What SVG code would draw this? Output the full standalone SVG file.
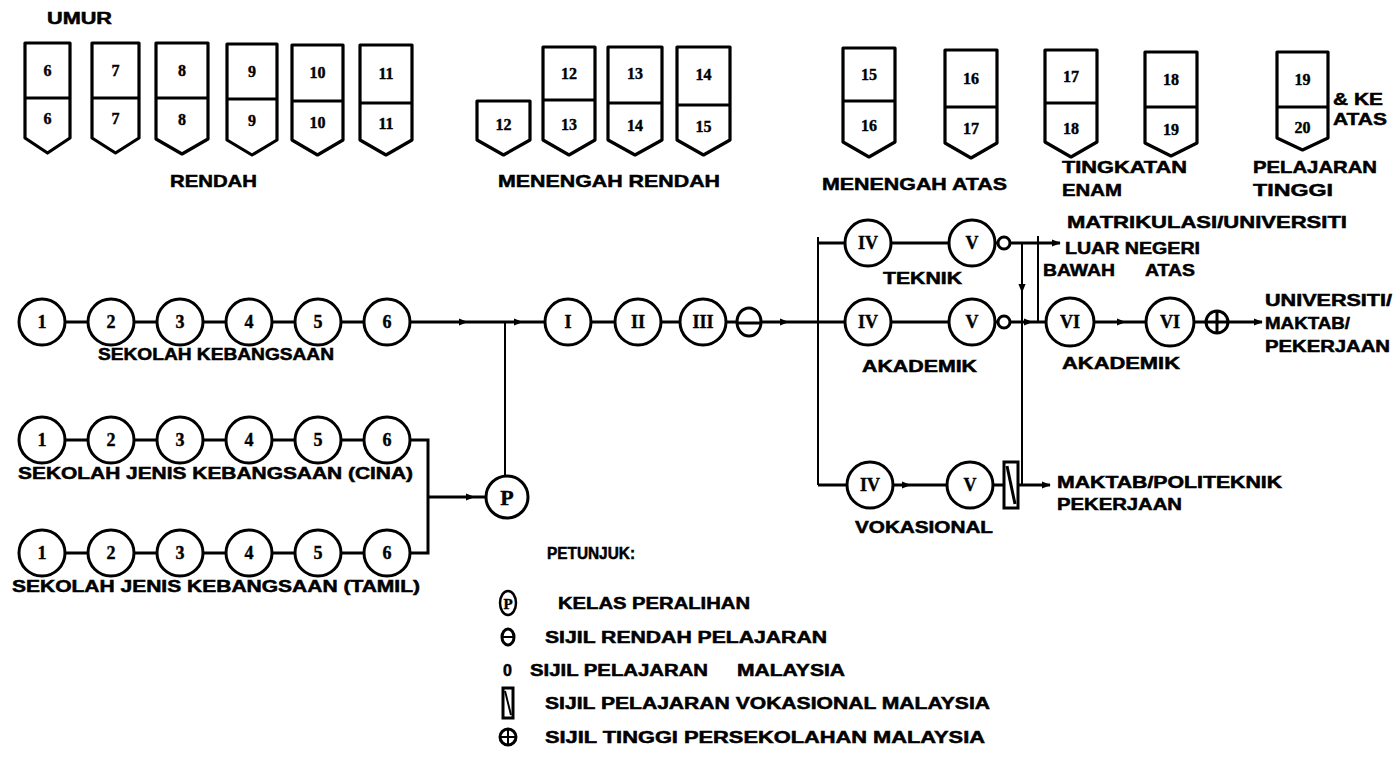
<svg xmlns="http://www.w3.org/2000/svg" width="1399" height="778" viewBox="0 0 1399 778">
<style>
.t{font-family:"Liberation Sans",Arial,sans-serif;font-weight:bold;font-size:16px;fill:#000;stroke:#000;stroke-width:0.5}
.lg{font-size:17px}
.n{font-family:"Liberation Serif","Times New Roman",serif;font-weight:bold;font-size:16px;text-anchor:middle;fill:#000;stroke:#000;stroke-width:0.4}
.rn{font-size:18px}
.box{fill:#fff;stroke:#000;stroke-width:3.2;stroke-linejoin:round}
.c{fill:#fff;stroke:#000;stroke-width:3}
.ln{fill:none;stroke:#000;stroke-width:3}
.th{fill:none;stroke:#000;stroke-width:2}
</style>
<defs>
<marker id="arr" viewBox="0 0 10 10" refX="9" refY="5" markerWidth="9" markerHeight="9" markerUnits="userSpaceOnUse" orient="auto"><path d="M0,1 L10,5 L0,9 z" fill="#000"/></marker>
</defs>
<rect width="1399" height="778" fill="#fff"/>

<g id="age-header">
<text class="t" x="47" y="24" textLength="65" lengthAdjust="spacingAndGlyphs">UMUR</text>
</g>

<g id="age-boxes">
<path class="box" d="M25 43H70V138L47.5 153L25 138Z"/><line class="ln" x1="25" y1="98" x2="70" y2="98"/><text class="n" x="47.5" y="76">6</text><text class="n" x="47.5" y="124">6</text>
<path class="box" d="M92 43H139V138L115.5 153L92 138Z"/><line class="ln" x1="92" y1="98" x2="139" y2="98"/><text class="n" x="115.5" y="76">7</text><text class="n" x="115.5" y="124">7</text>
<path class="box" d="M156 43H208V139L182 154L156 139Z"/><line class="ln" x1="156" y1="98" x2="208" y2="98"/><text class="n" x="182" y="76">8</text><text class="n" x="182" y="125">8</text>
<path class="box" d="M227 44H277V140L252 155L227 140Z"/><line class="ln" x1="227" y1="99" x2="277" y2="99"/><text class="n" x="252" y="77">9</text><text class="n" x="252" y="126">9</text>
<path class="box" d="M292 45H343V140L317.5 155L292 140Z"/><line class="ln" x1="292" y1="101" x2="343" y2="101"/><text class="n" x="317.5" y="78">10</text><text class="n" x="317.5" y="128">10</text>
<path class="box" d="M360 45H412V140L386 155L360 140Z"/><line class="ln" x1="360" y1="103" x2="412" y2="103"/><text class="n" x="386" y="79">11</text><text class="n" x="386" y="129">11</text>

<path class="box" d="M477 101H530V140L503.5 155L477 140Z"/><text class="n" x="503.5" y="130">12</text>
<path class="box" d="M543 47H595V140L569 155L543 140Z"/><line class="ln" x1="543" y1="100" x2="595" y2="100"/><text class="n" x="569" y="79">12</text><text class="n" x="569" y="130">13</text>
<path class="box" d="M608 47H662V140L635 155L608 140Z"/><line class="ln" x1="608" y1="103" x2="662" y2="103"/><text class="n" x="635" y="79">13</text><text class="n" x="635" y="131">14</text>
<path class="box" d="M677 47H730V140L703.5 155L677 140Z"/><line class="ln" x1="677" y1="105" x2="730" y2="105"/><text class="n" x="703.5" y="80">14</text><text class="n" x="703.5" y="132">15</text>
<path class="box" d="M843 48H895V142L869 157L843 142Z"/><line class="ln" x1="843" y1="101" x2="895" y2="101"/><text class="n" x="869" y="80">15</text><text class="n" x="869" y="131">16</text>

<path class="box" d="M945 50H997V143L971 158L945 143Z"/><line class="ln" x1="945" y1="107" x2="997" y2="107"/><text class="n" x="971" y="84">16</text><text class="n" x="971" y="134">17</text>
<path class="box" d="M1045 50H1097V142L1071 157L1045 142Z"/><line class="ln" x1="1045" y1="103" x2="1097" y2="103"/><text class="n" x="1071" y="82">17</text><text class="n" x="1071" y="134">18</text>
<path class="box" d="M1145 52H1197V143L1171 156L1145 143Z"/><line class="ln" x1="1145" y1="107" x2="1197" y2="107"/><text class="n" x="1171" y="85">18</text><text class="n" x="1171" y="135">19</text>
<path class="box" d="M1277 52H1328V138L1302.5 150L1277 138Z"/><line class="ln" x1="1277" y1="107" x2="1328" y2="107"/><text class="n" x="1302.5" y="85">19</text><text class="n" x="1302.5" y="133">20</text>
</g>

<g id="age-labels">
<text class="t lg" x="170" y="187" textLength="87" lengthAdjust="spacingAndGlyphs">RENDAH</text>
<text class="t lg" x="498" y="187" textLength="222" lengthAdjust="spacingAndGlyphs">MENENGAH RENDAH</text>
<text class="t lg" x="822" y="190" textLength="185" lengthAdjust="spacingAndGlyphs">MENENGAH ATAS</text>
<text class="t lg" x="1062" y="173" textLength="125" lengthAdjust="spacingAndGlyphs">TINGKATAN</text>
<text class="t lg" x="1062" y="196" textLength="60" lengthAdjust="spacingAndGlyphs">ENAM</text>
<text class="t lg" x="1253" y="173" textLength="124" lengthAdjust="spacingAndGlyphs">PELAJARAN</text>
<text class="t lg" x="1253" y="196" textLength="80" lengthAdjust="spacingAndGlyphs">TINGGI</text>
<text class="t lg" x="1333" y="105" textLength="50" lengthAdjust="spacingAndGlyphs">&amp; KE</text>
<text class="t lg" x="1333" y="125" textLength="54" lengthAdjust="spacingAndGlyphs">ATAS</text>
<text class="t lg" x="1067" y="228" textLength="280" lengthAdjust="spacingAndGlyphs">MATRIKULASI/UNIVERSITI</text>
</g>

<g id="connectors">
<path class="ln" d="M42 322H387"/>
<path class="ln" d="M387 322H467" marker-end="url(#arr)"/>
<path class="ln" d="M467 322H522" marker-end="url(#arr)"/>
<path class="ln" d="M522 322H788" marker-end="url(#arr)"/>
<path class="ln" d="M788 322H868"/>
<path class="th" d="M505 322V477"/>
<path class="ln" d="M42 440H387"/>
<path class="ln" d="M42 553H387"/>
<path class="ln" d="M387 440H428V553H387"/>
<path class="ln" d="M428 497H474" marker-end="url(#arr)"/>
<path class="ln" d="M474 497H486"/>
<path class="th" d="M818 237V485"/>
<path class="ln" d="M818 243H1004"/>
<path class="ln" d="M1010 243H1060" marker-end="url(#arr)"/>
<path class="ln" d="M868 322H1004"/>
<path class="ln" d="M1010 322H1032" marker-end="url(#arr)"/>
<path class="ln" d="M1032 322H1048"/>
<path class="ln" d="M818 485H910" marker-end="url(#arr)"/>
<path class="ln" d="M910 485H1004"/>
<path class="th" d="M1022 243V292" marker-end="url(#arr)"/>
<path class="th" d="M1022 290V485"/>
<path class="ln" d="M1018 485H1050" marker-end="url(#arr)"/>
<path class="th" d="M1038 236V322"/>
<path class="ln" d="M1094 322H1125" marker-end="url(#arr)"/>
<path class="ln" d="M1125 322H1206"/>
<path class="ln" d="M1228 322H1262" marker-end="url(#arr)"/>
</g>

<g id="sekolah-kebangsaan">
<circle class="c" cx="42" cy="322" r="23"/><text class="n rn" x="42" y="328">1</text>
<circle class="c" cx="111" cy="322" r="23"/><text class="n rn" x="111" y="328">2</text>
<circle class="c" cx="180" cy="322" r="23"/><text class="n rn" x="180" y="328">3</text>
<circle class="c" cx="249" cy="322" r="23"/><text class="n rn" x="249" y="328">4</text>
<circle class="c" cx="318" cy="322" r="23"/><text class="n rn" x="318" y="328">5</text>
<circle class="c" cx="387" cy="322" r="23"/><text class="n rn" x="387" y="328">6</text>
<text class="t" x="98" y="360" textLength="236" lengthAdjust="spacingAndGlyphs">SEKOLAH KEBANGSAAN</text>
</g>

<g id="sjk-cina">
<circle class="c" cx="42" cy="440" r="23"/><text class="n rn" x="42" y="446">1</text>
<circle class="c" cx="111" cy="440" r="23"/><text class="n rn" x="111" y="446">2</text>
<circle class="c" cx="180" cy="440" r="23"/><text class="n rn" x="180" y="446">3</text>
<circle class="c" cx="249" cy="440" r="23"/><text class="n rn" x="249" y="446">4</text>
<circle class="c" cx="318" cy="440" r="23"/><text class="n rn" x="318" y="446">5</text>
<circle class="c" cx="387" cy="440" r="23"/><text class="n rn" x="387" y="446">6</text>
<text class="t" x="18" y="479" textLength="395" lengthAdjust="spacingAndGlyphs">SEKOLAH JENIS KEBANGSAAN (CINA)</text>
</g>

<g id="sjk-tamil">
<circle class="c" cx="42" cy="553" r="23"/><text class="n rn" x="42" y="559">1</text>
<circle class="c" cx="111" cy="553" r="23"/><text class="n rn" x="111" y="559">2</text>
<circle class="c" cx="180" cy="553" r="23"/><text class="n rn" x="180" y="559">3</text>
<circle class="c" cx="249" cy="553" r="23"/><text class="n rn" x="249" y="559">4</text>
<circle class="c" cx="318" cy="553" r="23"/><text class="n rn" x="318" y="559">5</text>
<circle class="c" cx="387" cy="553" r="23"/><text class="n rn" x="387" y="559">6</text>
<text class="t" x="12" y="592" textLength="408" lengthAdjust="spacingAndGlyphs">SEKOLAH JENIS KEBANGSAAN (TAMIL)</text>
</g>

<g id="kelas-peralihan">
<circle class="c" cx="507" cy="497" r="21"/><text class="n" x="507" y="505" style="font-size:22px">P</text>
</g>

<g id="menengah-rendah">
<circle class="c" cx="568" cy="322" r="23"/><text class="n rn" x="568" y="328">I</text>
<circle class="c" cx="638" cy="322" r="23"/><text class="n rn" x="638" y="328">II</text>
<circle class="c" cx="703" cy="322" r="23"/><text class="n rn" x="703" y="328">III</text>
<ellipse class="c" cx="749" cy="322" rx="12" ry="14"/><line class="ln" x1="738" y1="323" x2="760" y2="323"/>
</g>

<g id="teknik">
<circle class="c" cx="868" cy="243" r="23"/><text class="n rn" x="868" y="249">IV</text>
<circle class="c" cx="972" cy="243" r="23"/><text class="n rn" x="972" y="249">V</text>
<circle class="c" cx="1004" cy="243" r="6"/>
<text class="t" x="883" y="284" textLength="79" lengthAdjust="spacingAndGlyphs">TEKNIK</text>
</g>

<g id="akademik">
<circle class="c" cx="868" cy="322" r="23"/><text class="n rn" x="868" y="328">IV</text>
<circle class="c" cx="972" cy="322" r="23"/><text class="n rn" x="972" y="328">V</text>
<circle class="c" cx="1004" cy="322" r="6"/>
<text class="t" x="862" y="372" textLength="115" lengthAdjust="spacingAndGlyphs">AKADEMIK</text>
</g>

<g id="vokasional">
<circle class="c" cx="870" cy="485" r="23"/><text class="n rn" x="870" y="491">IV</text>
<circle class="c" cx="970" cy="485" r="23"/><text class="n rn" x="970" y="491">V</text>
<rect class="c" x="1004" y="462" width="14" height="46"/><line class="ln" x1="1007" y1="466" x2="1015" y2="504"/>
<text class="t" x="855" y="533" textLength="138" lengthAdjust="spacingAndGlyphs">VOKASIONAL</text>
</g>

<g id="luar-negeri">
<text class="t" x="1065" y="254" textLength="135" lengthAdjust="spacingAndGlyphs">LUAR NEGERI</text>
<text class="t" x="1043" y="276" textLength="72" lengthAdjust="spacingAndGlyphs">BAWAH</text>
<text class="t" x="1145" y="276" textLength="50" lengthAdjust="spacingAndGlyphs">ATAS</text>
</g>

<g id="tingkatan-enam">
<circle class="c" cx="1070" cy="322" r="24"/><text class="n rn" x="1070" y="328">VI</text>
<circle class="c" cx="1170" cy="322" r="24"/><text class="n rn" x="1170" y="328">VI</text>
<circle class="c" cx="1217" cy="322" r="11"/><line class="ln" x1="1206" y1="322" x2="1228" y2="322"/><line class="ln" x1="1217" y1="311" x2="1217" y2="333"/>
<text class="t" x="1062" y="369" textLength="118" lengthAdjust="spacingAndGlyphs">AKADEMIK</text>
</g>

<g id="destinations">
<text class="t" x="1265" y="306" textLength="127" lengthAdjust="spacingAndGlyphs">UNIVERSITI/</text>
<text class="t" x="1265" y="329" textLength="85" lengthAdjust="spacingAndGlyphs">MAKTAB/</text>
<text class="t" x="1265" y="352" textLength="125" lengthAdjust="spacingAndGlyphs">PEKERJAAN</text>
<text class="t" x="1057" y="488" textLength="225" lengthAdjust="spacingAndGlyphs">MAKTAB/POLITEKNIK</text>
<text class="t" x="1057" y="510" textLength="125" lengthAdjust="spacingAndGlyphs">PEKERJAAN</text>
</g>

<g id="legend">
<text class="t" x="547" y="559" textLength="88" lengthAdjust="spacingAndGlyphs">PETUNJUK:</text>
<ellipse class="c" cx="508" cy="603" rx="8" ry="12" style="stroke-width:2.5"/><text class="n" x="508" y="609" style="font-size:15px">P</text>
<text class="t" x="558" y="609" textLength="192" lengthAdjust="spacingAndGlyphs">KELAS PERALIHAN</text>
<ellipse class="c" cx="508" cy="637" rx="6" ry="8" style="stroke-width:3"/><line class="th" x1="502" y1="637" x2="514" y2="637"/>
<text class="t" x="545" y="643" textLength="282" lengthAdjust="spacingAndGlyphs">SIJIL RENDAH PELAJARAN</text>
<text class="t" x="503" y="676">0</text>
<text class="t" x="530" y="676" textLength="178" lengthAdjust="spacingAndGlyphs">SIJIL PELAJARAN</text>
<text class="t" x="737" y="676" textLength="108" lengthAdjust="spacingAndGlyphs">MALAYSIA</text>
<rect class="c" x="503" y="688" width="10" height="30"/><line class="th" x1="505" y1="691" x2="511" y2="715"/>
<text class="t" x="545" y="709" textLength="445" lengthAdjust="spacingAndGlyphs">SIJIL PELAJARAN VOKASIONAL MALAYSIA</text>
<circle class="c" cx="508" cy="737" r="8"/><line class="th" x1="500" y1="737" x2="516" y2="737"/><line class="th" x1="508" y1="729" x2="508" y2="745"/>
<text class="t" x="545" y="743" textLength="440" lengthAdjust="spacingAndGlyphs">SIJIL TINGGI PERSEKOLAHAN MALAYSIA</text>
</g>
</svg>
